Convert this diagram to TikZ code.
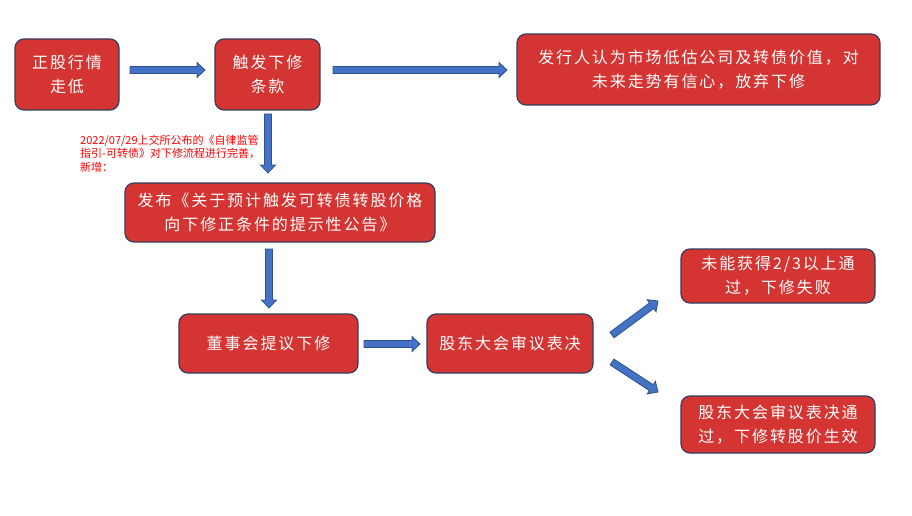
\documentclass[tikz,border=0pt]{standalone}
\usepackage{fontspec}
\newfontfamily\cjk{Noto Sans CJK SC}[LetterSpace=12]
\newfontfamily\cjknote{Noto Sans CJK SC}
\usetikzlibrary{calc}
\definecolor{boxred}{RGB}{212,52,50}
\definecolor{boxedge}{RGB}{52,62,96}
\definecolor{arrowfill}{RGB}{68,114,196}
\definecolor{arrowedge}{RGB}{47,82,143}
\definecolor{notered}{RGB}{255,0,0}
\tikzset{
  box/.style={draw=boxedge, line width=1.2pt, fill=boxred, rounded corners=9pt,
    text=white, align=center, font=\cjk\fontsize{16}{24}\selectfont, inner sep=0pt},
  arrowbody/.style={fill=arrowfill, draw=arrowedge, line width=0.8pt, line join=miter},
  note/.style={text=notered, align=left, anchor=north west, inner sep=0pt,
    font=\cjknote\fontsize{11}{13.5}\selectfont}
}
\newcommand\blockarrow[2]{%
  \coordinate (bah) at ($(#2)!8pt!(#1)$);
  \draw[arrowbody] ($(#1)!3.5pt!90:(#2)$) -- ($(bah)!3.5pt!90:(#2)$)
    -- ($(bah)!7.5pt!90:(#2)$) -- (#2) -- ($(bah)!7.5pt!-90:(#2)$)
    -- ($(bah)!3.5pt!-90:(#2)$) -- ($(#1)!3.5pt!-90:(#2)$) -- cycle;
}
\begin{document}
\begin{tikzpicture}[x=1pt,y=-1pt]
\useasboundingbox (0,0) rectangle (912,516);
\fill[white] (0,0) rectangle (912,516);

\node[box, minimum width=104pt, minimum height=71pt] (b1) at (67,74.5) {正股行情\\走低};
\node[box, minimum width=105pt, minimum height=71pt] (b2) at (267.5,74.5) {触发下修\\条款};
\node[box, minimum width=363pt, minimum height=71pt] (b3) at (698.5,69.5) {发行人认为市场低估公司及转债价值，对\\未来走势有信心，放弃下修};
\node[box, minimum width=310pt, minimum height=59pt] (b4) at (280,212.5) {发布《关于预计触发可转债转股价格\\向下修正条件的提示性公告》};
\node[box, minimum width=179pt, minimum height=59pt] (b5) at (268.5,343.5) {董事会提议下修};
\node[box, minimum width=166pt, minimum height=59pt] (b6) at (510,343.5) {股东大会审议表决};
\node[box, minimum width=194pt, minimum height=54pt] (b7) at (778,276) {未能获得2/3以上通\\过，下修失败};
\node[box, minimum width=194pt, minimum height=57pt] (b8) at (778,424.5) {股东大会审议表决通\\过，下修转股价生效};

\node[note] (n1) at (80,134.5) {2022/07/29上交所公布的《自律监管\\指引-可转债》对下修流程进行完善，\\新增：};

\coordinate (a1s) at (130,70);  \coordinate (a1e) at (205,70);
\coordinate (a2s) at (333,70);  \coordinate (a2e) at (507,70);
\coordinate (a3s) at (268,114); \coordinate (a3e) at (268,173);
\coordinate (a4s) at (269,249); \coordinate (a4e) at (269,308);
\coordinate (a5s) at (364,344); \coordinate (a5e) at (420,344);
\coordinate (a6s) at (612,335); \coordinate (a6e) at (658,301);
\coordinate (a7s) at (612,362); \coordinate (a7e) at (658,392);

\blockarrow{a1s}{a1e}
\blockarrow{a2s}{a2e}
\blockarrow{a3s}{a3e}
\blockarrow{a4s}{a4e}
\blockarrow{a5s}{a5e}
\blockarrow{a6s}{a6e}
\blockarrow{a7s}{a7e}
\end{tikzpicture}
\end{document}
